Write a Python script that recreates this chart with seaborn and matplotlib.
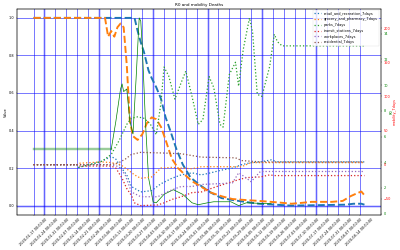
import matplotlib
matplotlib.use("Agg")
import matplotlib.pyplot as plt
import matplotlib.dates as mdates
import seaborn as sns
import pandas as pd

# ---------------- data ----------------
title = "R0 and mobility Deaths"

# main axis (normalised values)
blue_dash_dates = ["2020-01-17", "2020-03-22", "2020-03-24", "2020-03-26", "2020-03-28", "2020-03-31",
                   "2020-04-02", "2020-04-05", "2020-04-08", "2020-04-11", "2020-04-14", "2020-04-18",
                   "2020-04-22", "2020-04-27", "2020-05-03", "2020-05-10", "2020-05-17", "2020-05-24",
                   "2020-06-01", "2020-06-10", "2020-07-01", "2020-08-05", "2020-08-10", "2020-08-15",
                   "2020-08-17"]
blue_dash_vals = [1.0, 1.0, 0.93, 0.87, 0.82, 0.72, 0.68, 0.63, 0.57, 0.47, 0.40, 0.30,
                  0.22, 0.15, 0.11, 0.07, 0.04, 0.03, 0.02, 0.01, 0.0, 0.005, 0.01, 0.01, 0.005]

orange_dash_dates = ["2020-01-17", "2020-03-03", "2020-03-05", "2020-03-07", "2020-03-09", "2020-03-11",
                     "2020-03-13", "2020-03-15", "2020-03-17", "2020-03-19", "2020-03-21", "2020-03-24",
                     "2020-03-27", "2020-03-30", "2020-04-02", "2020-04-05", "2020-04-08", "2020-04-11",
                     "2020-04-15", "2020-04-19", "2020-04-24", "2020-04-28", "2020-05-04", "2020-05-10",
                     "2020-05-17", "2020-05-24", "2020-06-01", "2020-06-10", "2020-06-18", "2020-06-25",
                     "2020-07-01", "2020-07-08", "2020-07-14", "2020-07-21", "2020-07-27", "2020-08-03",
                     "2020-08-08", "2020-08-12", "2020-08-15", "2020-08-17"]
orange_dash_vals = [1.0, 1.0, 0.90, 0.93, 0.90, 0.95, 0.97, 0.95, 0.75, 0.45, 0.37, 0.35,
                    0.38, 0.44, 0.47, 0.46, 0.42, 0.35, 0.25, 0.20, 0.16, 0.13, 0.10, 0.07,
                    0.05, 0.035, 0.03, 0.025, 0.02, 0.015, 0.01, 0.015, 0.02, 0.02, 0.02, 0.025,
                    0.05, 0.065, 0.075, 0.055]

# green axis (R0)
r0_flat_dates = ["2020-01-17", "2020-03-07"]
r0_flat_vals = [5.0, 5.0]
r0_dates = ["2020-03-07", "2020-03-10", "2020-03-13", "2020-03-14", "2020-03-15", "2020-03-17",
            "2020-03-19", "2020-03-21", "2020-03-23", "2020-03-25", "2020-03-26", "2020-03-27",
            "2020-03-29", "2020-03-31", "2020-04-03", "2020-04-05", "2020-04-10", "2020-04-16",
            "2020-04-22", "2020-04-28", "2020-05-02", "2020-05-08", "2020-05-12", "2020-05-23",
            "2020-05-28", "2020-06-02", "2020-06-10", "2020-06-18"]
r0_vals = [5.0, 7.2, 9.7, 10.1, 9.5, 9.7, 7.2, 6.2, 10.5, 15.24, 15.0, 13.0,
           7.2, 2.8, 0.9, 0.84, 1.5, 1.86, 1.5, 0.84, 0.69, 0.84, 0.92, 0.92,
           0.62, 0.84, 0.8, 0.77]

# red axis (mobility, % change from baseline)
retail_dates = ["2020-01-17", "2020-02-14", "2020-02-15", "2020-02-22", "2020-03-01", "2020-03-07",
                "2020-03-10", "2020-03-13", "2020-03-17", "2020-03-20", "2020-03-26", "2020-04-02",
                "2020-04-08", "2020-04-15", "2020-04-21", "2020-04-28", "2020-05-04", "2020-05-10",
                "2020-05-17", "2020-05-24", "2020-05-30", "2020-06-05", "2020-06-11", "2020-06-18",
                "2020-06-22", "2020-08-17"]
retail_vals = [0, 0, -4, 0, 5, 12, 8, -3, -15, -32, -40, -38, -28, -20, -15, -12, -15, -12,
               -8, -5, 0, 3, 4, 7, 4, 4]

grocery_dates = ["2020-01-17", "2020-02-14", "2020-02-15", "2020-03-01", "2020-03-07", "2020-03-13",
                 "2020-03-18", "2020-03-22", "2020-03-26", "2020-04-02", "2020-04-08", "2020-04-15",
                 "2020-04-21", "2020-04-28", "2020-05-04", "2020-05-17", "2020-05-30", "2020-06-05",
                 "2020-08-17"]
grocery_vals = [0, 0, 2, 4, 3, 0, -8, -15, -20, -18, -5, -4, -5, -6, -3, -3, -3, 3, 3]

parks_dates = ["2020-01-17", "2020-02-14", "2020-02-15", "2020-02-22", "2020-03-01", "2020-03-07",
               "2020-03-12", "2020-03-17", "2020-03-20", "2020-03-24", "2020-03-28", "2020-04-01",
               "2020-04-05", "2020-04-08", "2020-04-10", "2020-04-13", "2020-04-17", "2020-04-21",
               "2020-04-24", "2020-04-28", "2020-05-02", "2020-05-05", "2020-05-09", "2020-05-12",
               "2020-05-16", "2020-05-18", "2020-05-22", "2020-05-26", "2020-05-28", "2020-05-31",
               "2020-06-04", "2020-06-06", "2020-06-09", "2020-06-12", "2020-06-17", "2020-06-20",
               "2020-06-22", "2020-06-25", "2020-08-17"]
parks_vals = [0, 0, -4, 0, 5, 15, 35, 59, 68, 70, 68, 60, 44, 90, 143, 130, 96, 120, 137, 100,
              59, 66, 129, 113, 59, 55, 132, 150, 115, 169, 215, 194, 103, 100, 144, 191, 180,
              174, 174]

transit_dates = ["2020-01-17", "2020-02-14", "2020-02-15", "2020-03-07", "2020-03-10", "2020-03-14",
                 "2020-03-17", "2020-03-20", "2020-03-22", "2020-03-26", "2020-04-06", "2020-04-10",
                 "2020-04-15", "2020-04-21", "2020-04-28", "2020-05-04", "2020-05-14", "2020-05-21",
                 "2020-05-28", "2020-06-02", "2020-06-11", "2020-06-17", "2020-06-20", "2020-08-17"]
transit_vals = [0, 0, -2, -2, -5, -20, -35, -45, -56, -60, -59, -56, -51, -47, -41, -40, -32,
                -27, -22, -19, -18, -15, -16, -16]

work_dates = ["2020-01-17", "2020-02-14", "2020-02-15", "2020-03-07", "2020-03-12", "2020-03-16",
              "2020-03-20", "2020-03-26", "2020-04-06", "2020-04-10", "2020-04-15", "2020-04-21",
              "2020-04-28", "2020-05-04", "2020-05-14", "2020-05-24", "2020-05-28", "2020-06-01",
              "2020-06-05", "2020-06-11", "2020-06-18", "2020-08-17"]
work_vals = [0, 0, 0, 0, -3, -15, -40, -47, -47, -42, -37, -32, -32, -29, -28, -27, -12, -18,
             -25, -10, -10, -10]

resid_dates = ["2020-01-17", "2020-02-14", "2020-02-15", "2020-03-07", "2020-03-12", "2020-03-16",
               "2020-03-20", "2020-03-26", "2020-04-10", "2020-04-21", "2020-05-04", "2020-05-26",
               "2020-05-30", "2020-06-05", "2020-06-12", "2020-08-17"]
resid_vals = [0, 0, 0, 0, 3, 8, 15, 18, 17, 16, 11, 10, 6, 5, 4, 4]

mobility = [
    ("retail_and_recreation_7days", retail_dates, retail_vals, "tab:blue"),
    ("grocery_and_pharmacy_7days", grocery_dates, grocery_vals, "tab:orange"),
    ("parks_7days", parks_dates, parks_vals, "tab:green"),
    ("transit_stations_7days", transit_dates, transit_vals, "tab:red"),
    ("workplaces_7days", work_dates, work_vals, "tab:purple"),
    ("residential_7days", resid_dates, resid_vals, "tab:brown"),
]

tick_start, tick_end = "2020-01-17", "2020-08-17"
highlight_dates = ["2020-01-24", "2020-02-28", "2020-04-03", "2020-05-08", "2020-06-12", "2020-07-17"]

# ---------------- figure ----------------
plt.rcParams["font.family"] = ["DejaVu Sans"]
fig = plt.figure(figsize=(16, 10), dpi=25)
ax = fig.add_subplot(111)
fig.subplots_adjust(left=0.0425, right=0.9525, bottom=0.14, top=0.966)

sns.lineplot(x=pd.to_datetime(blue_dash_dates), y=blue_dash_vals, ax=ax, color="tab:blue",
             linestyle="--", linewidth=5.5, legend=False)
sns.lineplot(x=pd.to_datetime(orange_dash_dates), y=orange_dash_vals, ax=ax, color="tab:orange",
             linestyle="--", linewidth=5.5, legend=False)

ax_g = ax.twinx()
sns.lineplot(x=pd.to_datetime(r0_flat_dates), y=r0_flat_vals, ax=ax_g, color="green",
             linewidth=7, alpha=0.4, legend=False)
sns.lineplot(x=pd.to_datetime(r0_dates), y=r0_vals, ax=ax_g, color="green",
             linewidth=2, legend=False)

ax_r = ax.twinx()
for name, d, v, c in mobility:
    sns.lineplot(x=pd.to_datetime(d), y=v, ax=ax_r, color=c, linestyle=":", linewidth=3.6, label=name)

# grid and highlight lines
ax.grid(True, color="blue", alpha=0.6, linewidth=2.5)
for hd in highlight_dates:
    ax.axvline(pd.Timestamp(hd), color="blue", alpha=0.18, linewidth=8, zorder=0)
ax.axhline(0.0, color="blue", alpha=0.18, linewidth=8, zorder=0)

ticks = pd.date_range(tick_start, tick_end, freq="7D")
ax.set_xticks(ticks)
ax.xaxis.set_major_formatter(mdates.DateFormatter("%Y-%m-%d %H:%M:%S"))
plt.setp(ax.get_xticklabels(), rotation=45)

ax.set_title(title)
ax.set_ylabel("Value")
ax.set_xlabel("")
ax_g.set_ylabel("R0", color="green")
ax_g.tick_params(axis="y", labelcolor="green")
ax_r.set_ylabel("mobility_7days", color="red")
ax_r.tick_params(axis="y", labelcolor="red")
ax_r.legend(loc="upper right")

fig.savefig("out.png", dpi=25)
